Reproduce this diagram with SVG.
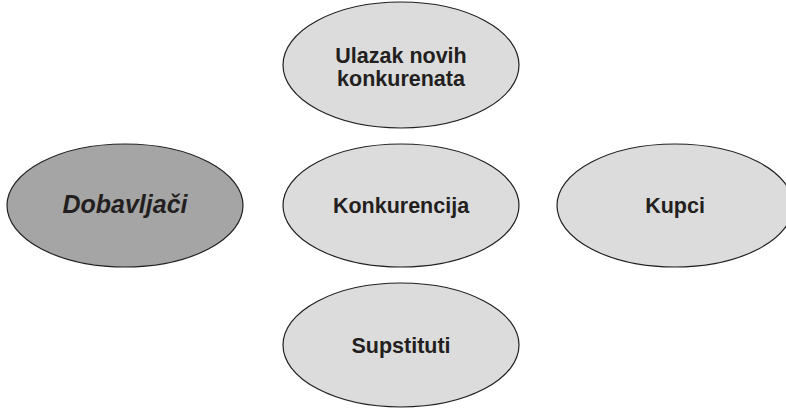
<svg xmlns="http://www.w3.org/2000/svg" width="786" height="408" viewBox="0 0 786 408">
<style>
.n{fill:#dcdcdc;stroke:#231f20;stroke-width:1.2}
.d{fill:#a5a5a5;stroke:#231f20;stroke-width:1.2}
.t{font-family:"Liberation Sans",Arial,sans-serif;font-weight:bold;font-size:21.5px;fill:#231f20;text-anchor:middle}
.i{font-style:italic;font-size:25px}
</style>
<rect width="786" height="408" fill="#ffffff"/>
<g id="connectors"></g>
<g id="ulazak">
<ellipse class="n" cx="401" cy="65" rx="118" ry="63"/>
<text class="t" x="401" y="63">Ulazak novih</text>
<text class="t" x="401" y="86">konkurenata</text>
</g>
<g id="dobavljaci">
<ellipse class="d" cx="125" cy="205.5" rx="118" ry="61.5"/>
<text class="t i" x="125" y="213">Dobavljači</text>
</g>
<g id="konkurencija">
<ellipse class="n" cx="401" cy="205.5" rx="118" ry="61.5"/>
<text class="t" x="401" y="213">Konkurencija</text>
</g>
<g id="kupci">
<ellipse class="n" cx="675" cy="205.5" rx="118" ry="61.5"/>
<text class="t" x="675" y="213">Kupci</text>
</g>
<g id="supstituti">
<ellipse class="n" cx="401" cy="345" rx="118" ry="62"/>
<text class="t" x="401" y="353">Supstituti</text>
</g>
</svg>
